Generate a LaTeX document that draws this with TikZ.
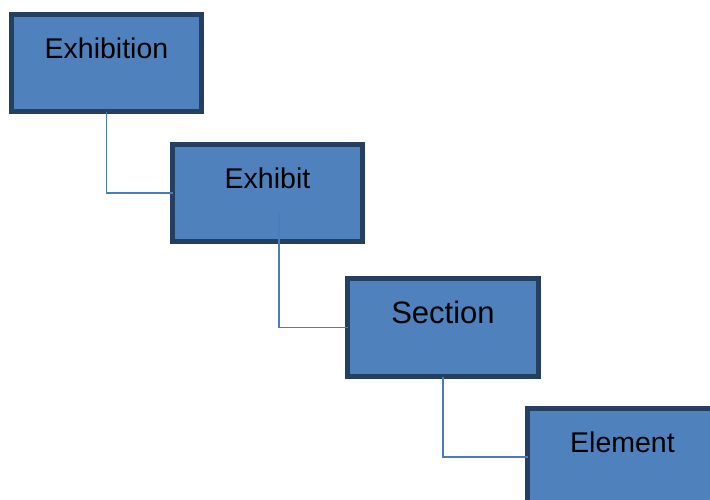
\documentclass[tikz,border=0pt]{standalone}
\usepackage{fontspec}
\setmainfont{Liberation Sans}

\begin{document}
\begin{tikzpicture}[x=1pt,y=-1pt]
\definecolor{BOXFILL}{HTML}{4F81BD}
\definecolor{BOXLINE}{HTML}{243F60}
\definecolor{LINK}{HTML}{4A7EBB}
\tikzset{
	level/.style={draw=BOXLINE,fill=BOXFILL,line width=5pt,inner sep=0pt,outer sep=0pt,
		anchor=north west,minimum width=190pt,text height=43.5pt,text depth=53.5pt,
		font=\fontsize{28.5}{34}\selectfont},
	link/.style={draw=LINK,line width=1.6pt}
}
\useasboundingbox (0,0) rectangle (710,499);

% Levels of the hierarchy
\foreach \n/\x/\y/\txt in {b1/11.5/14.5/Exhibition,b2/172.5/144.5/Exhibit,b4/527.5/408.5/Element}{
	\node[level] (\n) at (\x,\y) {\txt};
}
\node[level,minimum width=191pt,text height=44.7pt,text depth=53.3pt,
	font=\fontsize{31}{37}\selectfont] (b3) at (347.5,278.5) {Section};

% Links between levels
\coordinate (b2tap) at ([xshift=11.5pt,yshift=28.5pt]b2.south);
\draw[link] (b1.south) |- (b2.west);
\draw[link] (b2tap) |- (b3.west);
\draw[link] (b3.south) |- (b4.west);

\end{tikzpicture}
\end{document}
